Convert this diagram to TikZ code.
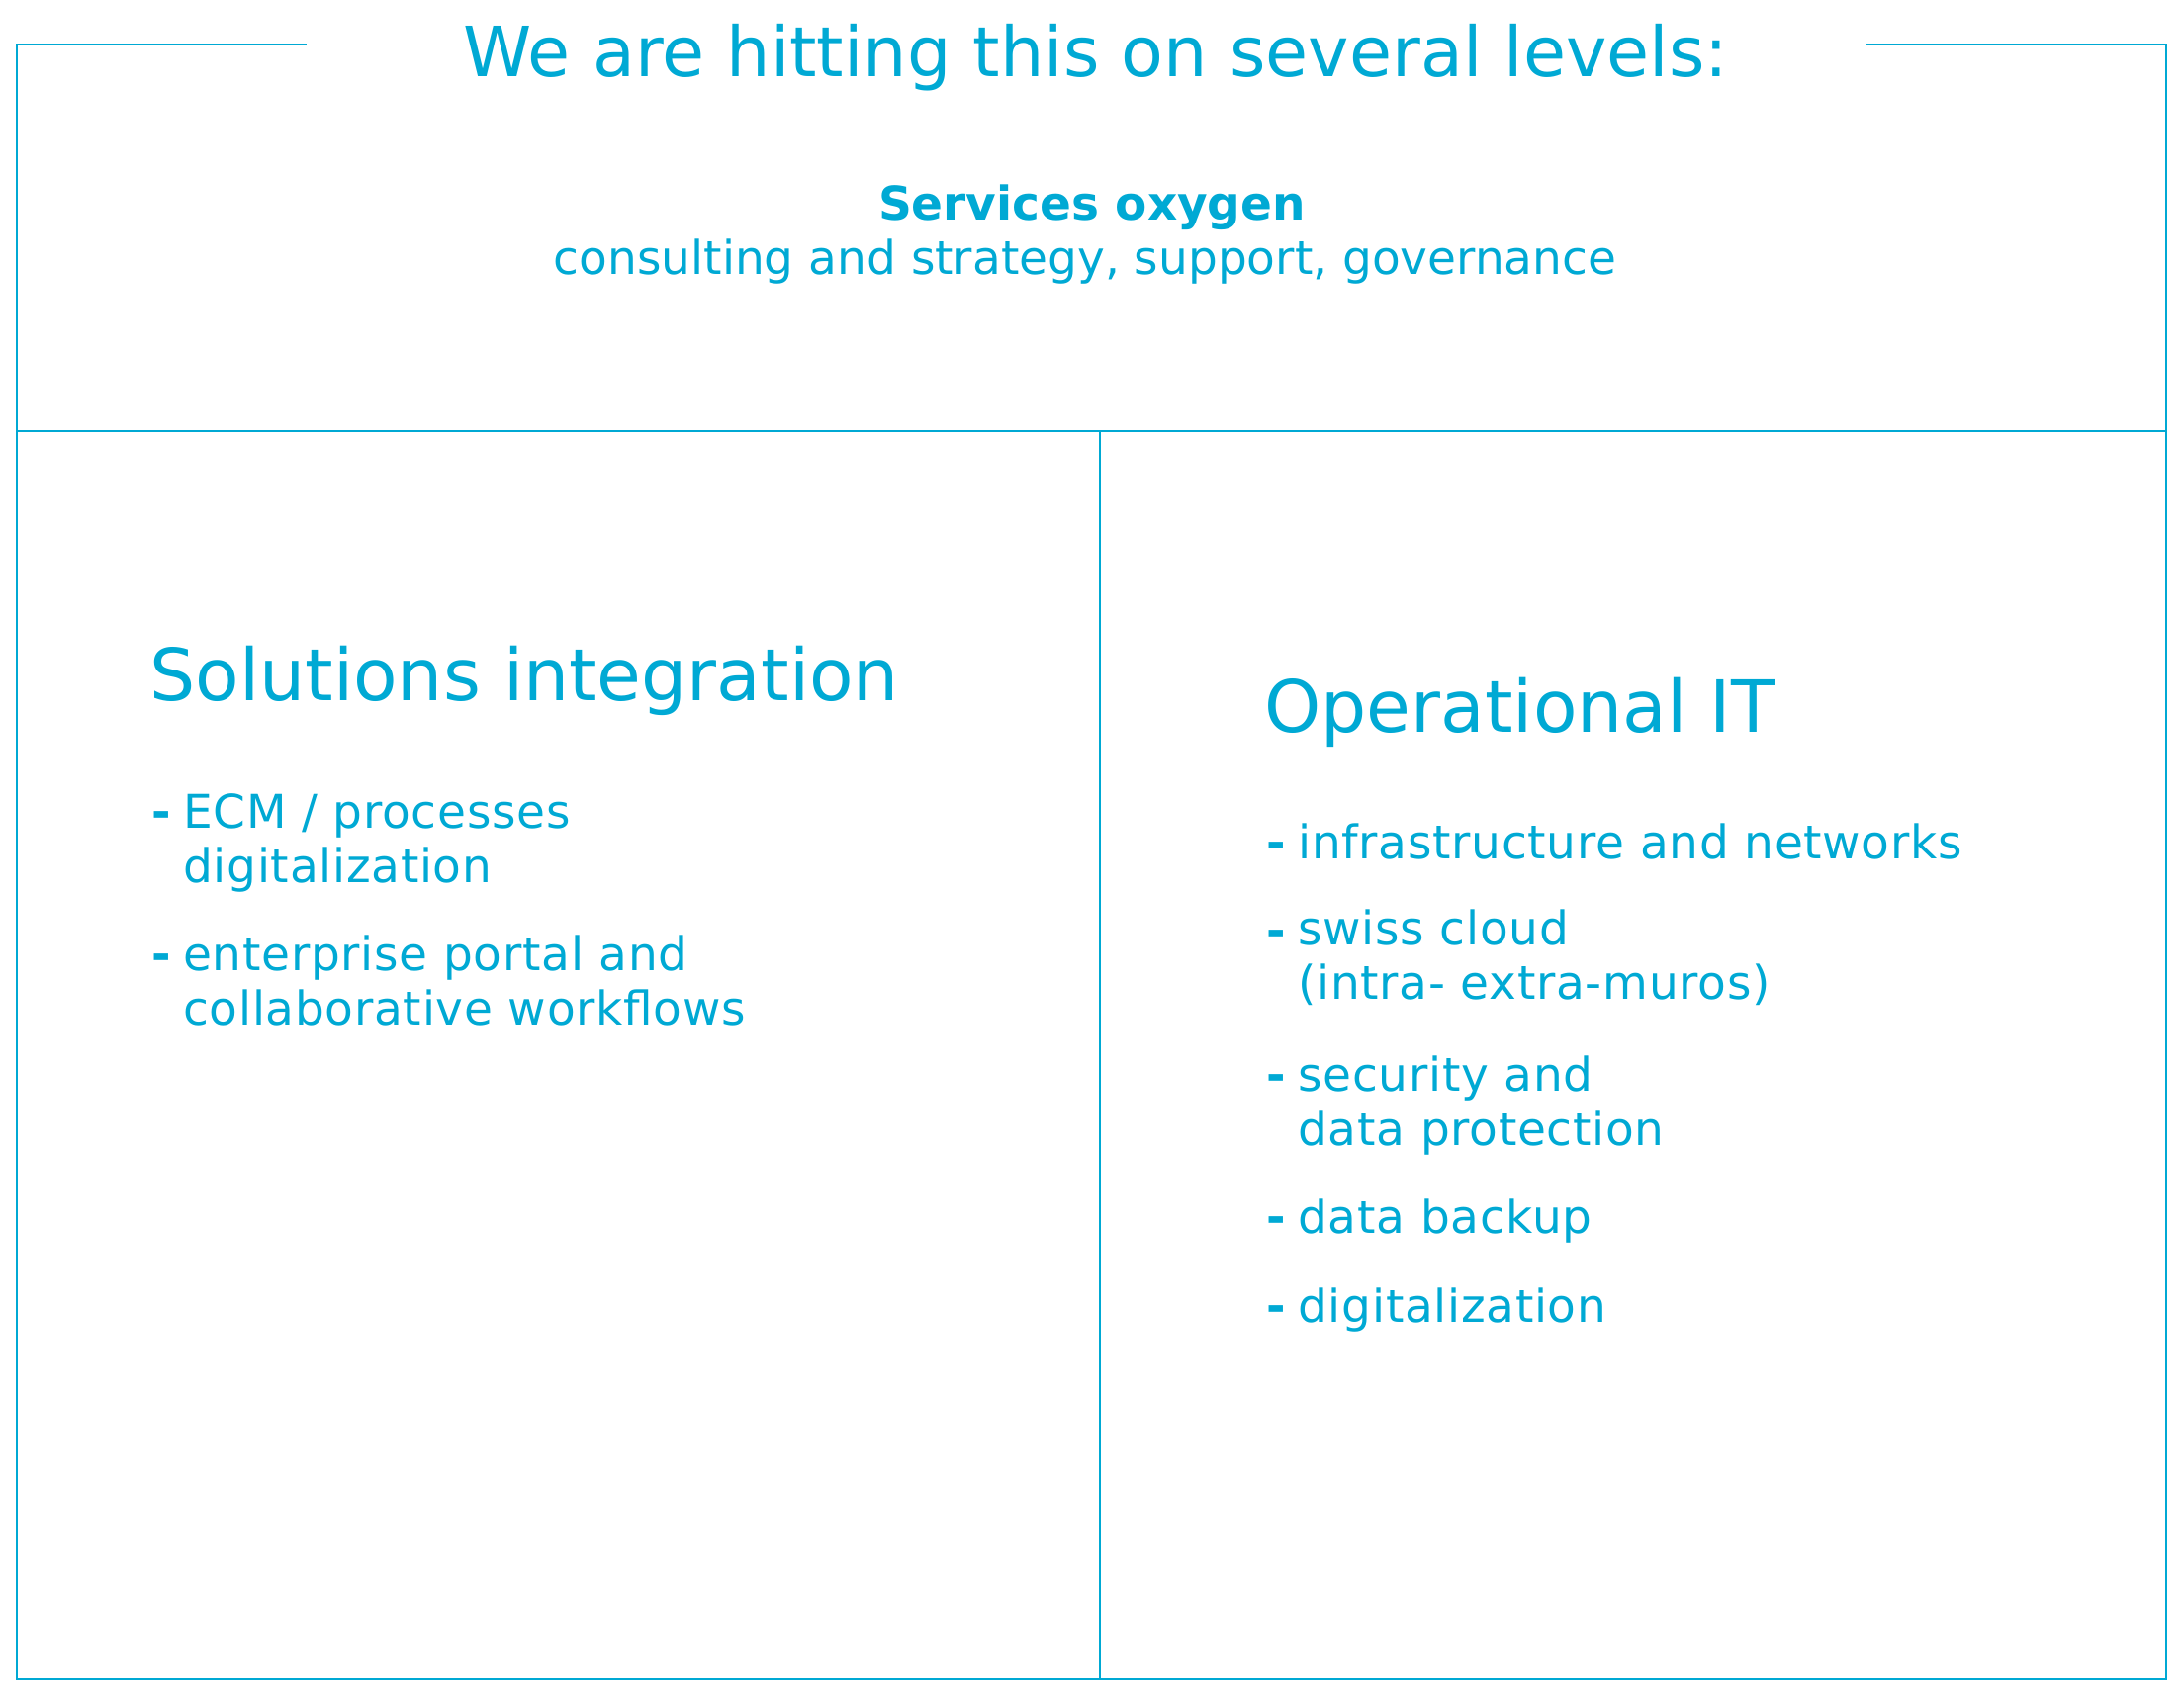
\documentclass[tikz,border=0pt]{standalone}
\usepackage{fontspec}
\setmainfont{DejaVu Sans}
\newfontfamily\itemfont[LetterSpace=1.5]{DejaVu Sans}
\definecolor{oxblue}{HTML}{00A9D4}

\begin{document}
\begin{tikzpicture}[x=0.5pt, y=-0.5pt, every node/.style={text=oxblue, inner sep=0pt},
	frameline/.style={draw=oxblue, line width=1pt},
	heading/.style={anchor=base west, font=\fontsize{36.4}{40}\selectfont},
	dashmark/.style={anchor=base west, font=\fontsize{23.5}{27.5}\selectfont\bfseries},
	item/.style={anchor=base west, align=left, font=\itemfont\fontsize{23.5}{27.5}\selectfont}]
	\useasboundingbox (0,0) rectangle (2208,1715);
	
	% frame
	\draw[frameline] (310,45) -- (17,45) -- (17,1698) -- (2190,1698) -- (2190,45) -- (1886,45);
	\draw[frameline] (17,436) -- (2190,436);
	\draw[frameline, line width=0.8pt] (1112,436) -- (1112,1698);
	
	% top part
	\node[anchor=base, font=\fontsize{35}{40}\selectfont] (title) at (1108,77) {We are hitting this on several levels:};
	\node[anchor=base, font=\fontsize{23.5}{27.5}\selectfont\bfseries] (services) at (1104,222) {Services oxygen};
	\node[anchor=base, font=\fontsize{23.5}{27.5}\selectfont] (servicestxt) at (1097,277) {consulting and strategy, support, governance};
	
	% left column (first and last baseline of every item)
	\node[heading] (solutions) at (151,708) {Solutions integration};
	\foreach \y/\yl/\txt [count=\i] in {837/892/{ECM / processes\\digitalization}, 981/1036/{enterprise portal and\\collaborative workflows}}{
		\node[dashmark] (ldash\i) at (153,\y) {-};
		\node[item] (litem\i) at (185,\yl) {\txt};
	}
	
	% right column
	\node[heading] (operational) at (1278,740) {Operational IT};
	\foreach \y/\yl/\txt [count=\i] in {868/868/{infrastructure and networks}, 957/1010/{swiss cloud\\(intra- extra-muros)}, 1103/1158/{security and\\data protection}, 1247/1247/{data backup}, 1337/1337/{digitalization}}{
		\node[dashmark] (rdash\i) at (1280,\y) {-};
		\node[item] (ritem\i) at (1312,\yl) {\txt};
	}
\end{tikzpicture}
\end{document}
